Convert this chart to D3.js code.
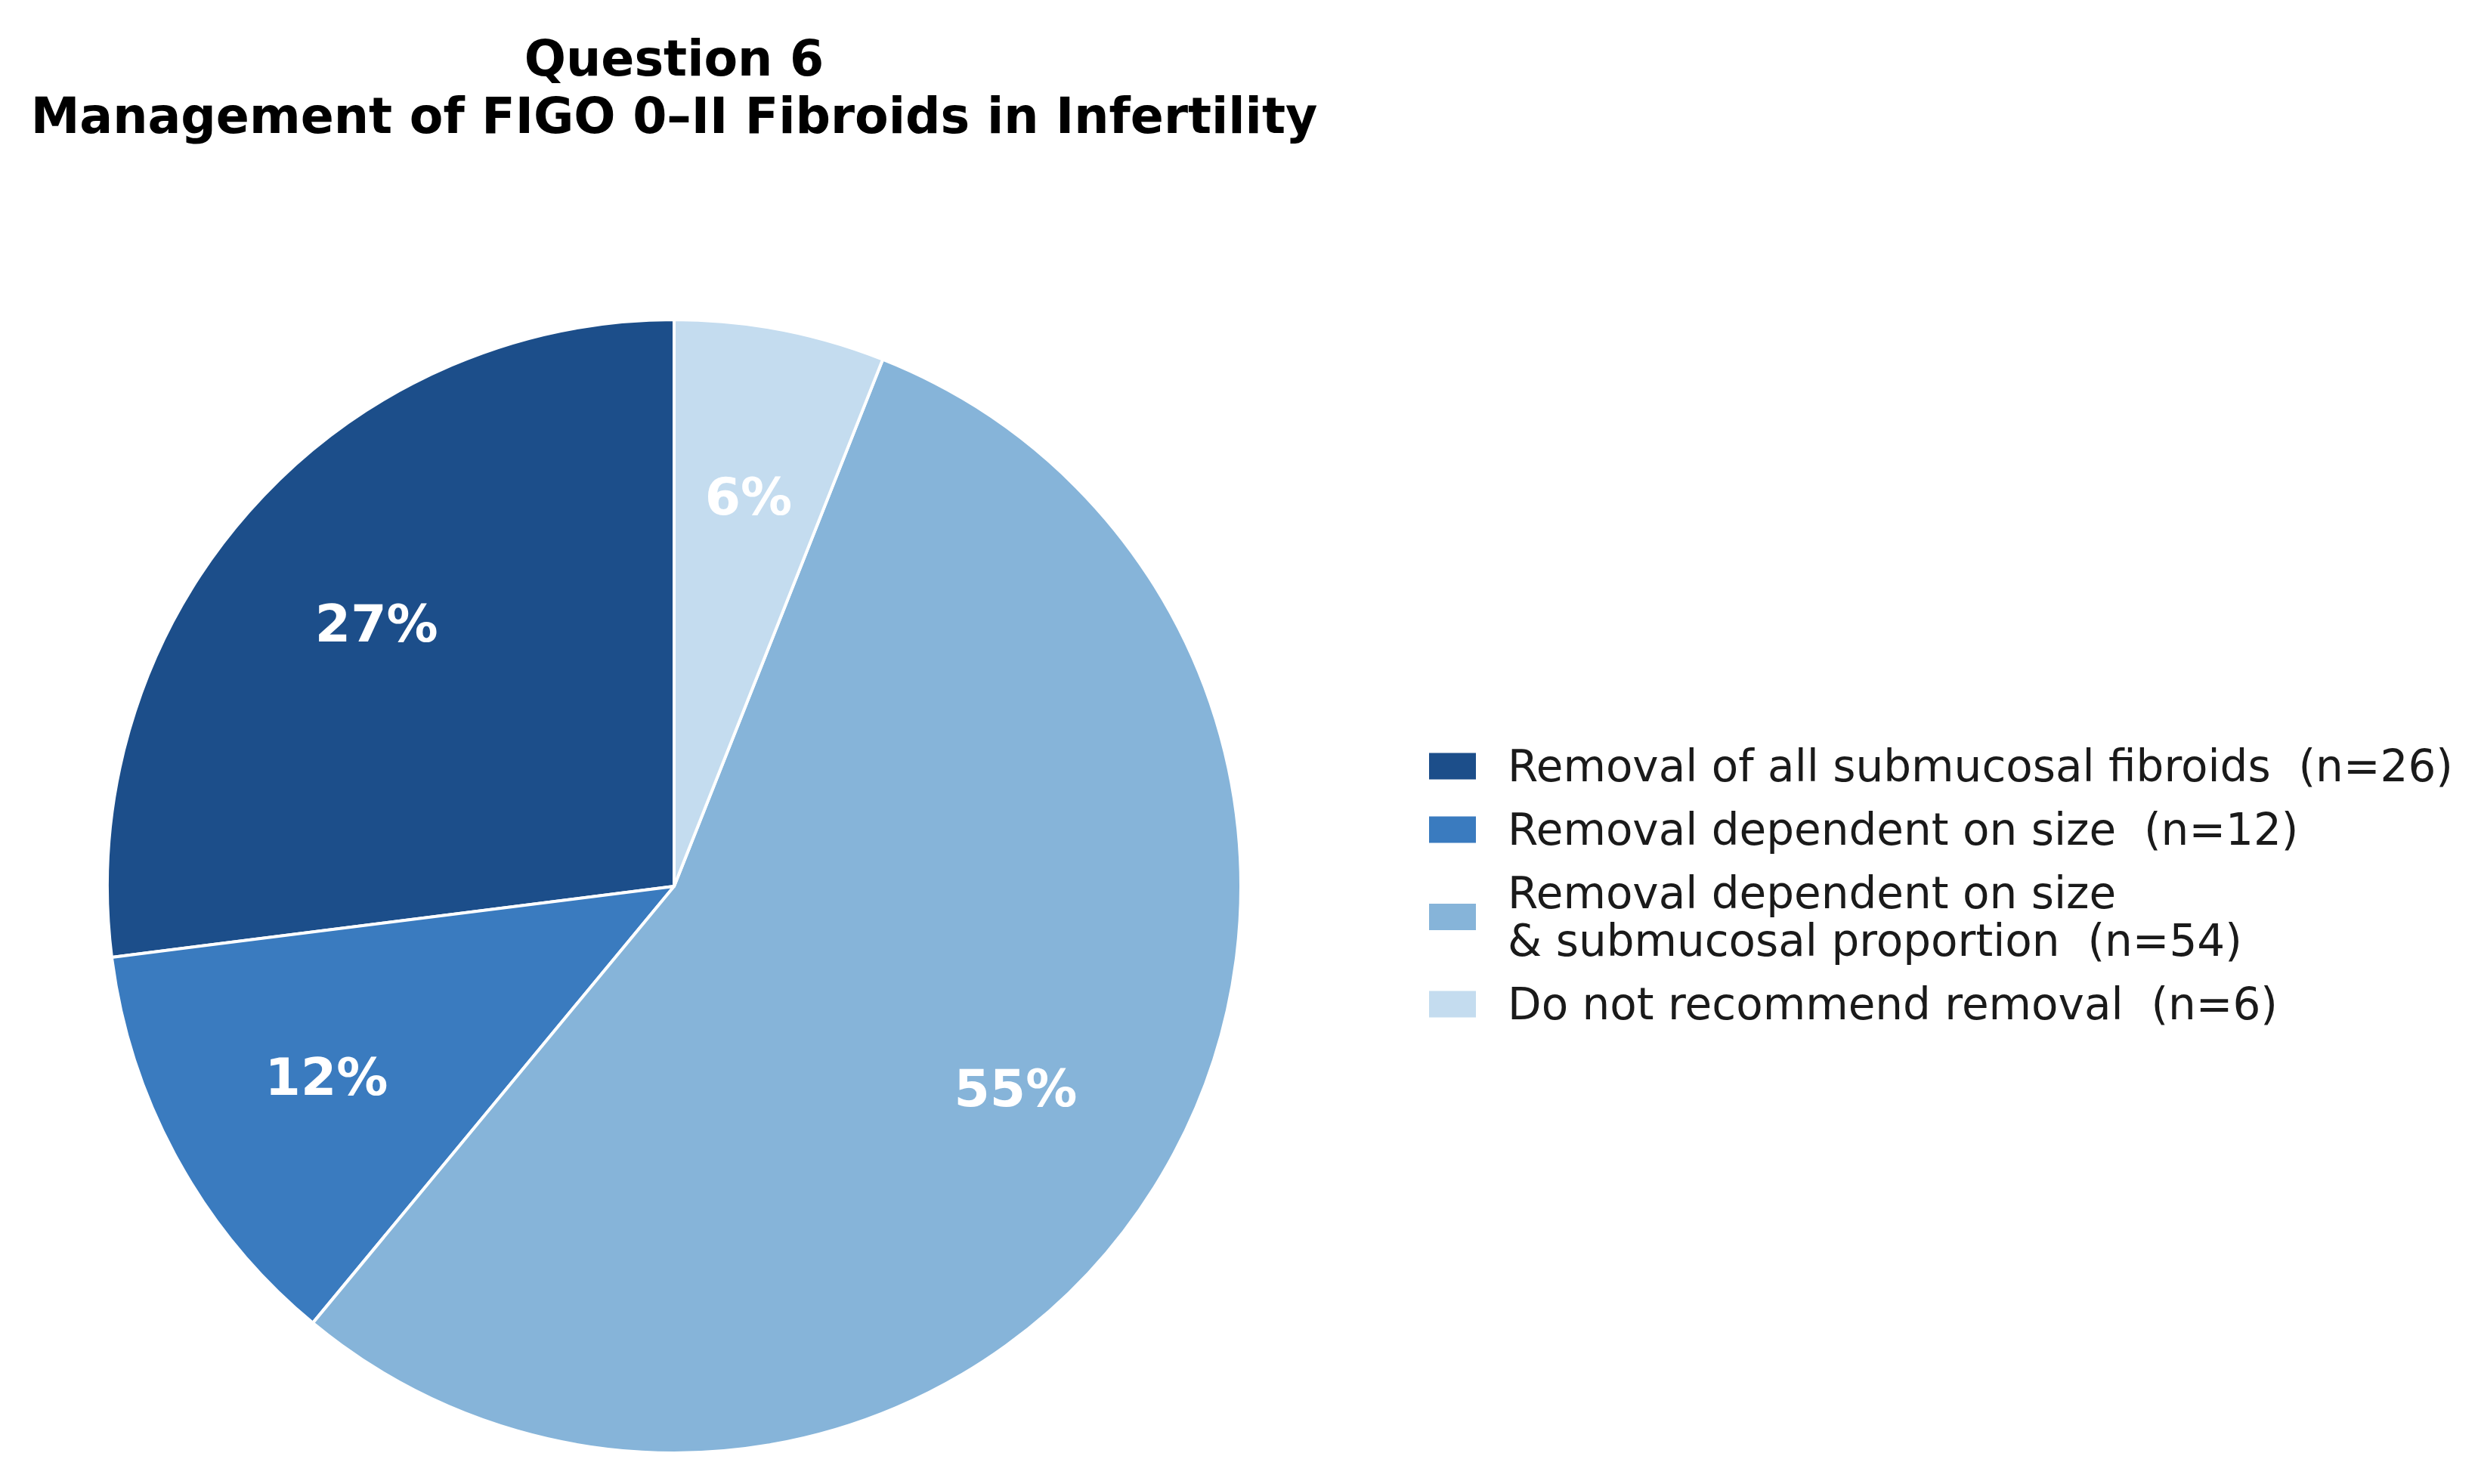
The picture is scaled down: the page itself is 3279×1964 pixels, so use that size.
<!DOCTYPE html>
<html>
<head>
<meta charset="utf-8">
<script src="https://cdn.jsdelivr.net/npm/d3@7"></script>
<style>
  body { margin: 0; background: #fff; }
  text { font-family: "DejaVu Sans", sans-serif; white-space: pre; }
</style>
</head>
<body>
<script>
// Chart data
const categories = [
    "Removal of all submucosal fibroids",
    "Removal dependent on size",
    "Removal dependent on size\n& submucosal proportion",
    "Do not recommend removal"
];
const counts = [26, 12, 54, 6];
const percents = [27, 12, 55, 6];
const colors = ["#1c4e8a", "#3a7bbf", "#86b4d9", "#c4dcef"];
const titleLines = ["Question 6", "Management of FIGO 0\u2013II Fibroids in Infertility"];

const width = 3279, height = 1964;
const cx = 892, cy = 1173, radius = 750;

const svg = d3.select("body").append("svg")
    .attr("width", width)
    .attr("height", height);

// title
svg.append("g").selectAll("text")
    .data(titleLines)
    .join("text")
    .attr("x", cx)
    .attr("y", (d, i) => 100 + i * 76)
    .attr("text-anchor", "middle")
    .attr("font-size", 65)
    .attr("font-weight", "bold")
    .attr("fill", "#000")
    .text(d => d);

// pie, counterclockwise from 12 o'clock
const pie = d3.pie().sort(null).startAngle(0).endAngle(-2 * Math.PI);
const arcs = pie(percents);

const arc = d3.arc().innerRadius(0).outerRadius(radius);
const labelArc = d3.arc().innerRadius(radius * 0.7).outerRadius(radius * 0.7);

const pieG = svg.append("g").attr("transform", `translate(${cx},${cy})`);

pieG.selectAll("path")
    .data(arcs)
    .join("path")
    .attr("d", arc)
    .attr("fill", (d, i) => colors[i])
    .attr("stroke", "#fff")
    .attr("stroke-width", 4)
    .attr("stroke-linejoin", "round");

pieG.selectAll("text")
    .data(arcs)
    .join("text")
    .attr("transform", d => `translate(${labelArc.centroid(d)})`)
    .attr("text-anchor", "middle")
    .attr("dominant-baseline", "central")
    .attr("font-size", 68)
    .attr("font-weight", "bold")
    .attr("fill", "#fff")
    .text(d => d.value + "%");

// legend
const legend = svg.append("g").attr("transform", "translate(1891,0)");
const lineH = 63;
let yCenter = 1014;
categories.forEach((cat, i) => {
    const lines = cat.split("\n");
    lines[lines.length - 1] += "  (n=" + counts[i] + ")";
    if (i > 0) {
        const prevLines = categories[i - 1].split("\n").length;
        yCenter += 84 + (prevLines - 1) * lineH / 2 + (lines.length - 1) * lineH / 2;
    }
    legend.append("rect")
        .attr("x", 0)
        .attr("y", yCenter - 17.5)
        .attr("width", 62)
        .attr("height", 35)
        .attr("fill", colors[i]);
    lines.forEach((ln, j) => {
        legend.append("text")
            .attr("x", 104)
            .attr("y", yCenter + (j - (lines.length - 1) / 2) * lineH)
            .attr("dominant-baseline", "central")
            .attr("font-size", 58)
            .attr("fill", "#1a1a1a")
            .text(ln);
    });
});
</script>
</body>
</html>
